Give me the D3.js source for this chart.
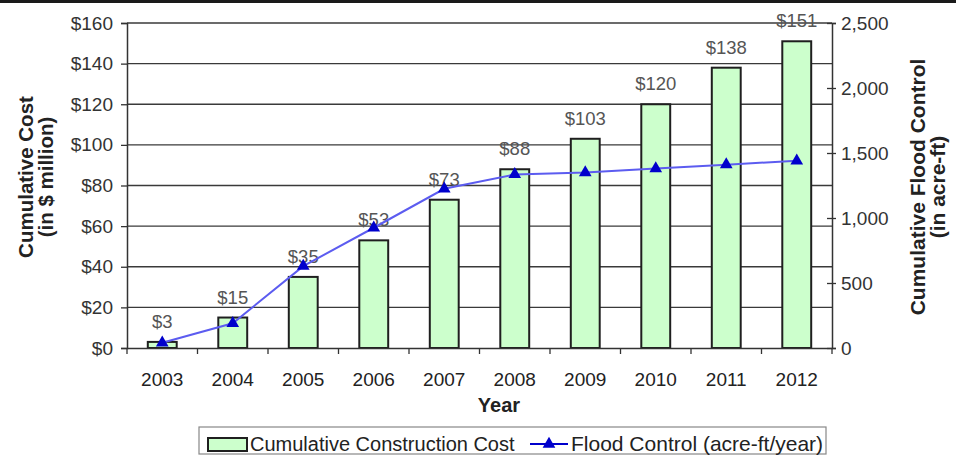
<!DOCTYPE html>
<html>
<head>
<meta charset="utf-8">
<script src="https://cdn.jsdelivr.net/npm/d3@7"></script>
<style>
  html, body { margin: 0; padding: 0; background: #fff; }
  svg { display: block; font-family: Arial, "Liberation Sans", sans-serif; }
</style>
</head>
<body>
<svg id="chart" width="956" height="455"></svg>
<script>
// Cumulative construction cost vs. cumulative flood control by year
const years = ["2003", "2004", "2005", "2006", "2007", "2008", "2009", "2010", "2011", "2012"];
const costMillions = [3, 15, 35, 53, 73, 88, 103, 120, 138, 151];
const floodAcreFt = [40, 190, 630, 925, 1225, 1335, 1350, 1380, 1410, 1440];
const costTicks = [0, 20, 40, 60, 80, 100, 120, 140, 160];
const floodTicks = [0, 500, 1000, 1500, 2000, 2500];

const svg = d3.select("#chart");
const W = 956, H = 455;
const m = { left: 127, right: 832, top: 23, bottom: 348 };
const FONT = "Arial, 'Liberation Sans', sans-serif";

// top edge rule
svg.append("rect").attr("x", 0).attr("y", 0).attr("width", W).attr("height", 3).attr("fill", "#1a1a1a");

const x = d3.scaleBand().domain(years).range([m.left, m.right]).paddingInner(0.59).paddingOuter(0.295);
const yL = d3.scaleLinear().domain([0, 160]).range([m.bottom, m.top]);
const yR = d3.scaleLinear().domain([0, 2500]).range([m.bottom, m.top]);

// horizontal gridlines
svg.append("g").selectAll("line").data(costTicks.filter(d => d > 0)).join("line")
  .attr("x1", m.left).attr("x2", m.right)
  .attr("y1", d => yL(d)).attr("y2", d => yL(d))
  .attr("stroke", "#3a3a3a").attr("stroke-width", 1.3);

// left axis
const axL = svg.append("g").attr("transform", `translate(${m.left},0)`)
  .call(d3.axisLeft(yL).tickValues(costTicks).tickFormat(d => "$" + d).tickSize(6).tickPadding(8));
axL.select(".domain").attr("stroke", "#333").attr("stroke-width", 1.5);
axL.selectAll(".tick line").attr("stroke", "#333").attr("stroke-width", 1.3);
axL.selectAll("text").attr("font-size", 19).attr("fill", "#333").attr("font-family", FONT);

// right axis (ticks cross the axis line)
const axR = svg.append("g").attr("transform", `translate(${m.right},0)`)
  .call(d3.axisRight(yR).tickValues(floodTicks).tickFormat(d3.format(",")).tickSize(4).tickPadding(5));
axR.select(".domain").attr("stroke", "#333").attr("stroke-width", 1.5);
axR.selectAll(".tick line").attr("stroke", "#333").attr("stroke-width", 1.3).attr("x1", -5);
axR.selectAll("text").attr("font-size", 19).attr("fill", "#333").attr("font-family", FONT);

// bars
svg.append("g").selectAll("rect").data(years).join("rect")
  .attr("x", d => x(d)).attr("width", x.bandwidth())
  .attr("y", (d, i) => yL(costMillions[i]))
  .attr("height", (d, i) => m.bottom - yL(costMillions[i]))
  .attr("fill", "#ccffcc").attr("stroke", "#1f1f1f").attr("stroke-width", 2);

// bottom axis with ticks at band boundaries
const axB = svg.append("g").attr("transform", `translate(0,${m.bottom})`)
  .call(d3.axisBottom(x).tickSize(0).tickPadding(25));
axB.select(".domain").attr("stroke", "#333").attr("stroke-width", 1.5);
axB.selectAll("text").attr("font-size", 19).attr("fill", "#222").attr("font-family", FONT);
const step = x.step();
svg.append("g").selectAll("line").data(d3.range(years.length + 1)).join("line")
  .attr("x1", i => m.left + i * step).attr("x2", i => m.left + i * step)
  .attr("y1", m.bottom).attr("y2", m.bottom + 6)
  .attr("stroke", "#333").attr("stroke-width", 1.3);

// value labels
svg.append("g").selectAll("text").data(years).join("text")
  .attr("x", d => x(d) + x.bandwidth() / 2)
  .attr("y", (d, i) => yL(costMillions[i]) - 14)
  .attr("text-anchor", "middle").attr("font-size", 18.5).attr("fill", "#555")
  .text((d, i) => "$" + costMillions[i]);

// flood control line
const cx = d => x(d) + x.bandwidth() / 2;
const line = d3.line().x((d, i) => cx(years[i])).y(d => yR(d));
svg.append("path").datum(floodAcreFt).attr("d", line)
  .attr("fill", "none").attr("stroke", "#5c5cf0").attr("stroke-width", 2);
const tri = d3.symbol().type(d3.symbolTriangle).size(70);
svg.append("g").selectAll("path").data(floodAcreFt).join("path")
  .attr("transform", (d, i) => `translate(${cx(years[i])},${yR(d)})`)
  .attr("d", tri).attr("fill", "#0000cc");

// axis titles
svg.append("text").attr("x", 499).attr("y", 412).attr("text-anchor", "middle")
  .attr("font-size", 20).attr("font-weight", "bold").attr("fill", "#222").text("Year");

const lt = svg.append("text").attr("transform", "translate(33,177) rotate(-90)")
  .attr("text-anchor", "middle").attr("font-size", 20.5).attr("font-weight", "bold").attr("fill", "#222");
lt.append("tspan").attr("x", 0).attr("dy", 0).text("Cumulative Cost");
lt.append("tspan").attr("x", 0).attr("dy", 19.5).text("(in $ million)");

const rt = svg.append("text").attr("transform", "translate(925,187) rotate(-90)")
  .attr("text-anchor", "middle").attr("font-size", 21).attr("font-weight", "bold").attr("fill", "#222");
rt.append("tspan").attr("x", 0).attr("dy", 0).text("Cumulative Flood Control");
rt.append("tspan").attr("x", 0).attr("dy", 20).text("(in acre-ft)");

// legend
const lg = svg.append("g");
lg.append("rect").attr("x", 199).attr("y", 427).attr("width", 627).attr("height", 27)
  .attr("fill", "#fff").attr("stroke", "#888").attr("stroke-width", 1.2);
lg.append("rect").attr("x", 208).attr("y", 438).attr("width", 39).attr("height", 13)
  .attr("fill", "#ccffcc").attr("stroke", "#1f1f1f").attr("stroke-width", 2);
lg.append("text").attr("x", 250).attr("y", 451).attr("font-size", 20).attr("fill", "#222")
  .text("Cumulative Construction Cost");
lg.append("line").attr("x1", 530).attr("x2", 568).attr("y1", 444).attr("y2", 444)
  .attr("stroke", "#0000cc").attr("stroke-width", 2);
lg.append("path").attr("transform", "translate(549,444)").attr("d", tri).attr("fill", "#0000cc");
lg.append("text").attr("x", 571).attr("y", 451).attr("font-size", 21).attr("fill", "#222")
  .text("Flood Control (acre-ft/year)");
</script>
</body>
</html>
